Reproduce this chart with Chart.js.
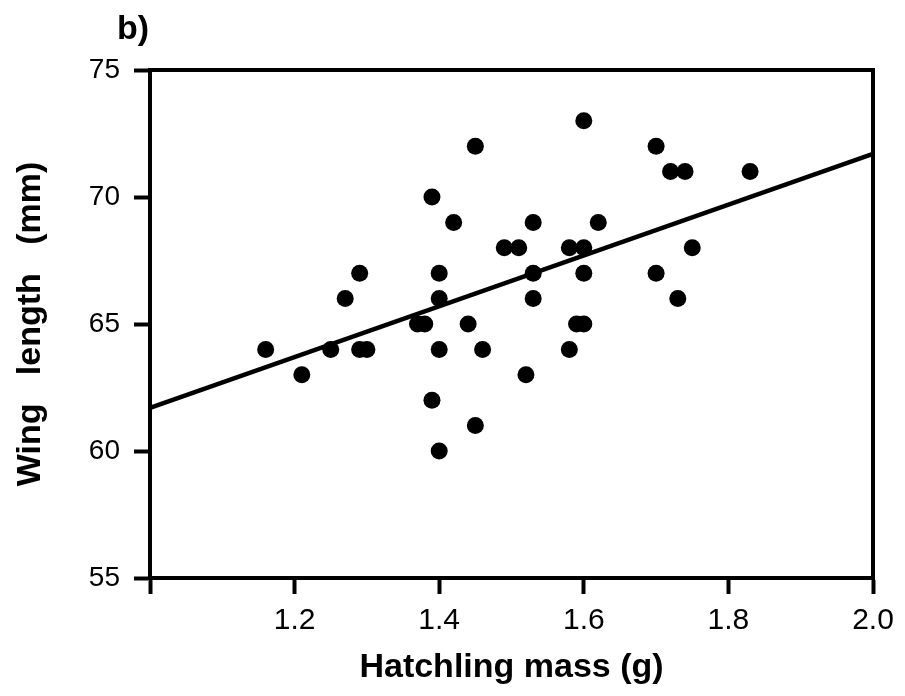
<!DOCTYPE html>
<html>
<head>
<meta charset="utf-8">
<script src="https://cdn.jsdelivr.net/npm/chart.js@4.4.1/dist/chart.umd.min.js"></script>
<style>
  html, body { margin: 0; padding: 0; background: #fff; }
  #wrap { width: 905px; height: 696px; }
</style>
</head>
<body>
<div id="wrap"><canvas id="myChart" width="905" height="696"></canvas></div>
<script>
// hatchling mass (g) and wing length (mm)
const massG = [
	1.16, 1.21, 1.25, 1.27, 1.29, 1.29, 1.30, 1.37, 1.38, 1.39,
	1.42, 1.40, 1.40, 1.40, 1.39, 1.40, 1.60, 1.45, 1.53, 1.62,
	1.49, 1.51, 1.58, 1.60, 1.53, 1.60, 1.53, 1.44, 1.59, 1.60,
	1.46, 1.58, 1.52, 1.45, 1.70, 1.72, 1.74, 1.83, 1.75, 1.70,
	1.73,
];
const wingMm = [
	64, 63, 64, 66, 67, 64, 64, 65, 65, 70,
	69, 67, 66, 64, 62, 60, 73, 72, 69, 69,
	68, 68, 68, 68, 67, 67, 66, 65, 65, 65,
	64, 64, 63, 61, 72, 71, 71, 71, 68, 67,
	66,
];

// regression line ends
const fitMass = [1.0, 2.0];
const fitWing = [61.7, 71.7];

const xTicks = [1.0, 1.2, 1.4, 1.6, 1.8, 2.0];
const yTicks = [55, 60, 65, 70, 75];

const titleFont = { family: "'Liberation Sans', Arial, sans-serif", size: 34, weight: "bold" };
const yTickFont = { family: "'Liberation Sans', Arial, sans-serif", size: 28 };
const xTickFont = { family: "'Liberation Sans', Arial, sans-serif", size: 30 };

// top and right edges of the box + the "b)" label
const frame = {
	id: "frame",
	afterDraw(chart) {
		const { ctx, chartArea } = chart;
		ctx.save();
		ctx.strokeStyle = "#000";
		ctx.lineWidth = 4;
		ctx.beginPath();
		ctx.moveTo(chartArea.left - 2, chartArea.top);
		ctx.lineTo(chartArea.right, chartArea.top);
		ctx.lineTo(chartArea.right, chartArea.bottom + 2);
		ctx.stroke();
		ctx.fillStyle = "#000";
		ctx.font = "bold 34px 'Liberation Sans', Arial, sans-serif";
		ctx.textBaseline = "alphabetic";
		ctx.fillText("b)", chartArea.left - 33, 39);
		ctx.restore();
	},
};

const ctx = document.getElementById("myChart").getContext("2d");
const myChart = new Chart(ctx, {
	type: "scatter",
	data: {
		datasets: [
			{
				label: "Wing length",
				data: massG.map((m, i) => ({ x: m, y: wingMm[i] })),
				pointRadius: 8.5,
				pointHoverRadius: 8.5,
				backgroundColor: "#000",
				borderWidth: 0,
			},
			{
				type: "line",
				label: "Fit",
				data: fitMass.map((m, i) => ({ x: m, y: fitWing[i] })),
				borderColor: "#000",
				borderWidth: 4.5,
				pointRadius: 0,
				fill: false,
			},
		],
	},
	options: {
		responsive: false,
		animation: false,
		layout: { padding: { top: 70, right: 32, left: 0, bottom: 0 } },
		plugins: {
			legend: { display: false },
			tooltip: { enabled: false },
		},
		scales: {
			x: {
				type: "linear",
				min: 1.0,
				max: 2.0,
				afterBuildTicks: (s) => { s.ticks = xTicks.map((v) => ({ value: v })); },
				afterFit: (s) => { s.height = 118; },
				border: { display: true, color: "#000", width: 4 },
				grid: { drawOnChartArea: false, drawTicks: true, tickLength: 16, tickWidth: 4, tickColor: "#000" },
				ticks: {
					color: "#000",
					font: xTickFont,
					padding: 9,
					maxRotation: 0,
					callback: (v) => (v === 1 ? "" : v.toFixed(1)),
				},
				title: { display: true, text: "Hatchling mass (g)", color: "#000", font: titleFont, padding: { top: 0, bottom: 8 } },
			},
			y: {
				type: "linear",
				min: 55,
				max: 75,
				afterBuildTicks: (s) => { s.ticks = yTicks.map((v) => ({ value: v })); },
				afterFit: (s) => { s.width = 150; },
				border: { display: true, color: "#000", width: 4 },
				grid: { drawOnChartArea: false, drawTicks: true, tickLength: 16, tickWidth: 4, tickColor: "#000" },
				ticks: { color: "#000", font: yTickFont, padding: 14 },
				title: { display: true, text: "Wing   length   (mm)", color: "#000", font: titleFont, padding: { top: 10, bottom: 0 } },
			},
		},
	},
	plugins: [frame],
});
</script>
</body>
</html>
